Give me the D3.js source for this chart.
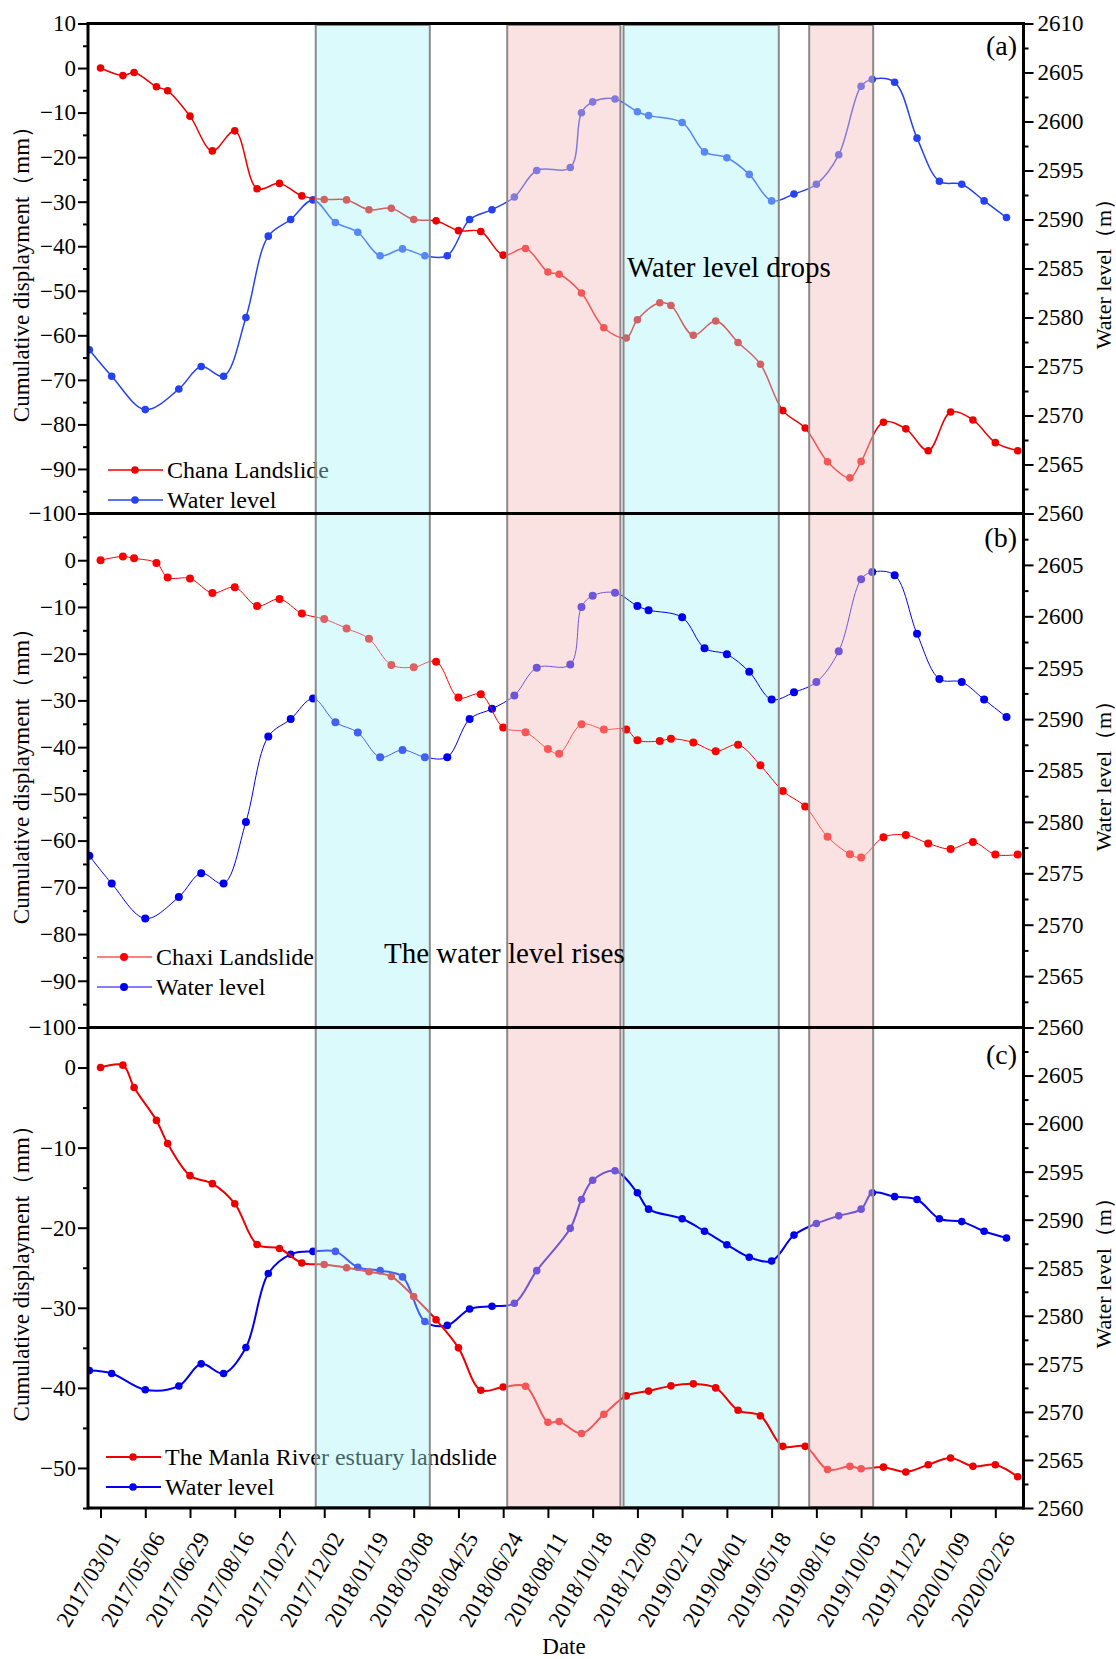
<!DOCTYPE html>
<html>
<head>
<meta charset="utf-8">
<script src="https://cdn.jsdelivr.net/npm/d3@7"></script>
<style>
  body { margin: 0; background: #fff; }
  svg text { font-family: "Liberation Serif", "Times New Roman", serif; fill: #000; }
</style>
</head>
<body>
<div id="chart"></div>
<script>
// date ticks on the x axis (equally spaced, one unit each)
const dateLabels = ["2017/03/01", "2017/05/06", "2017/06/29", "2017/08/16", "2017/10/27",
  "2017/12/02", "2018/01/19", "2018/03/08", "2018/04/25", "2018/06/24", "2018/08/11",
  "2018/10/18", "2018/12/09", "2019/02/12", "2019/04/01", "2019/05/18", "2019/08/16",
  "2019/10/05", "2019/11/22", "2020/01/09", "2020/02/26"];

// sample positions, in tick units (0 = 2017/03/01)
const slideX = [0, 0.5, 0.75, 1.25, 1.5, 2, 2.5, 3, 3.5, 4, 4.5, 5, 5.5, 6, 6.5, 7, 7.5, 8, 8.5, 9,
  9.5, 10, 10.25, 10.75, 11.25, 11.75, 12, 12.5, 12.75, 13.25, 13.75, 14.25, 14.75, 15.25, 15.75,
  16.25, 16.75, 17, 17.5, 18, 18.5, 19, 19.5, 20, 20.5];
const manlaX = [0, 0.5, 0.75, 1.25, 1.5, 2, 2.5, 3, 3.5, 4, 4.5, 5, 5.5, 6, 6.5, 7, 7.5, 8, 8.5, 9,
  9.5, 10, 10.25, 10.75, 11.25, 11.75, 12.25, 12.75, 13.25, 13.75, 14.25, 14.75, 15.25, 15.75,
  16.25, 16.75, 17, 17.5, 18, 18.5, 19, 19.5, 20, 20.5];
const waterX = [-0.25, 0.25, 1, 1.75, 2.25, 2.75, 3.25, 3.75, 4.25, 4.75, 5.25, 5.75, 6.25, 6.75,
  7.25, 7.75, 8.25, 8.75, 9.25, 9.75, 10.5, 10.75, 11, 11.5, 12, 12.25, 13, 13.5, 14, 14.5, 15,
  15.5, 16, 16.5, 17, 17.25, 17.75, 18.25, 18.75, 19.25, 19.75, 20.25];

// cumulative displacement (mm)
const chanaDisp = [0, -1.7, -1.0, -4.2, -5.1, -10.8, -18.6, -14.1, -27.1, -25.9, -28.7, -29.5,
  -29.6, -31.8, -31.5, -34.0, -34.3, -36.5, -36.7, -42.0, -40.5, -45.8, -46.3, -50.5, -58.3,
  -60.6, -56.5, -52.7, -53.3, -60.0, -56.8, -61.6, -66.5, -76.9, -80.8, -88.4, -92.0, -88.3,
  -79.5, -81.0, -85.9, -77.2, -79.0, -84.1, -85.9];
const chaxiDisp = [0, 0.8, 0.4, -0.6, -3.7, -3.9, -7.0, -5.8, -9.8, -8.3, -11.4, -12.6, -14.6,
  -16.8, -22.4, -22.9, -21.7, -29.4, -28.7, -35.8, -36.8, -40.4, -41.4, -35.1, -36.2, -36.2,
  -38.5, -38.7, -38.2, -39.0, -40.9, -39.5, -43.9, -49.4, -52.7, -59.2, -62.9, -63.6, -59.3,
  -58.8, -60.6, -61.8, -60.3, -63.0, -63.0];
const manlaDisp = [0, 0.3, -2.5, -6.6, -9.5, -13.5, -14.5, -17.0, -22.1, -22.6, -24.4, -24.6,
  -25.0, -25.5, -26.1, -28.6, -31.5, -35.0, -40.3, -39.9, -39.8, -44.3, -44.2, -45.7, -43.3,
  -41.0, -40.4, -39.75, -39.5, -40.0, -42.8, -43.5, -47.3, -47.3, -50.2, -49.8, -50.1, -49.9,
  -50.5, -49.6, -48.75, -49.8, -49.6, -51.1];

// water level (m)
const waterAB = [2576.7, 2574.0, 2570.6, 2572.7, 2575.0, 2574.0, 2580.0, 2588.3, 2590.0, 2592.0,
  2589.7, 2588.7, 2586.3, 2587.0, 2586.3, 2586.3, 2590.0, 2591.0, 2592.3, 2595.0, 2595.3, 2600.9,
  2602.0, 2602.3, 2601.0, 2600.6, 2599.9, 2596.9, 2596.3, 2594.6, 2591.9, 2592.6, 2593.6, 2596.6,
  2603.6, 2604.3, 2604.0, 2598.3, 2593.9, 2593.6, 2591.9, 2590.2];
const waterC = [2574.3, 2574.0, 2572.3, 2572.7, 2575.0, 2574.0, 2576.7, 2584.4, 2586.4, 2586.7,
  2586.7, 2585.05, 2584.7, 2584.05, 2579.4, 2579.0, 2580.7, 2581.0, 2581.3, 2584.7, 2589.1, 2592.1,
  2594.1, 2595.1, 2592.8, 2591.1, 2590.1, 2588.8, 2587.4, 2586.1, 2585.7, 2588.4, 2589.6, 2590.4,
  2591.1, 2592.8, 2592.4, 2592.1, 2590.1, 2589.8, 2588.8, 2588.1];

// shaded periods (tick units): cyan = water level drops, pink = water level rises
const bandFrom = [4.81, 9.09, 11.69, 15.84];
const bandTo = [7.36, 11.62, 15.16, 17.27];
const bandKind = ["drop", "rise", "drop", "rise"];

const W = 1116, H = 1659;
const xL = 88, xR = 1023.5;
const frameTop = 23.5, frameBottom = 1508;

const x = d3.scaleLinear().domain([-0.28, 20.63]).range([xL, xR]);

const panels = [
  { tag: "(a)", name: "Chana Landslide", xs: slideX, disp: chanaDisp, water: waterAB,
    top: 23.5, bottom: 513.5, yDom: [-100, 10], major: d3.range(-100, 11, 10), minor: d3.range(-95, 10, 10),
    hideLeft: [], hideRight: [], red: "#ee0000", blue: "#2442f0", lw: 1.5, r: 3.8,
    overlay: [0, 1, 2, 3], legY: 470, legX: 108, tagY: 55 },
  { tag: "(b)", name: "Chaxi Landslide", xs: slideX, disp: chaxiDisp, water: waterAB,
    top: 513.5, bottom: 1027.5, yDom: [-100, 10], major: d3.range(-100, 11, 10), minor: d3.range(-95, 10, 10),
    hideLeft: [10], hideRight: [2610], red: "#ff0000", blue: "#0000ee", lw: 1, r: 4,
    overlay: [0, 1, 3], legY: 957, legX: 97, tagY: 547 },
  { tag: "(c)", name: "The Manla River estuary landslide", xs: manlaX, disp: manlaDisp, water: waterC,
    top: 1027.5, bottom: 1508, yDom: [-55, 5], major: d3.range(-50, 1, 10), minor: d3.range(-55, 6, 10),
    hideLeft: [], hideRight: [2610], red: "#ee0000", blue: "#0000ee", lw: 2, r: 3.8,
    overlay: [0, 1, 3], legY: 1457, legX: 106, tagY: 1064 }
];

const fillSolid = { drop: "#dbfafc", rise: "#fbe2e2" };
const fillOver = { drop: "#a6f3f8", rise: "#f6bfbf" };
const overOpacity = { drop: 0.4, rise: 0.45 };

const svg = d3.select("#chart").append("svg")
  .attr("width", W).attr("height", H);

const defs = svg.append("defs");
const under = svg.append("g");
const data = svg.append("g");
const over = svg.append("g");
const frame = svg.append("g");
const notes = svg.append("g");

const fmt = d3.format("d");

panels.forEach((p, i) => {
  const y = d3.scaleLinear().domain(p.yDom).range([p.bottom, p.top]);
  const yR = d3.scaleLinear().domain([2560, 2610]).range([p.bottom, p.top]);

  defs.append("clipPath").attr("id", "clip" + i)
    .append("rect").attr("x", xL).attr("y", p.top).attr("width", xR - xL).attr("height", p.bottom - p.top);

  // shaded periods: some sit under the curves, the rest are laid on top
  bandFrom.forEach((b, k) => {
    const onTop = p.overlay.includes(k);
    (onTop ? over : under).append("rect")
      .attr("x", x(b)).attr("y", p.top)
      .attr("width", x(bandTo[k]) - x(b)).attr("height", p.bottom - p.top)
      .attr("fill", onTop ? fillOver[bandKind[k]] : fillSolid[bandKind[k]])
      .attr("fill-opacity", onTop ? overOpacity[bandKind[k]] : 1);
  });

  const g = data.append("g").attr("clip-path", `url(#clip${i})`);

  const water = waterX.map((v, k) => [v, p.water[k]]);
  const disp = p.xs.map((v, k) => [v, p.disp[k]]);

  g.append("path").datum(water)
    .attr("fill", "none").attr("stroke", p.blue).attr("stroke-width", p.lw)
    .attr("d", d3.line().x(d => x(d[0])).y(d => yR(d[1])).curve(d3.curveCatmullRom.alpha(0.5)));
  g.selectAll(".wp").data(water).enter().append("circle")
    .attr("cx", d => x(d[0])).attr("cy", d => yR(d[1])).attr("r", p.r).attr("fill", p.blue);

  g.append("path").datum(disp)
    .attr("fill", "none").attr("stroke", p.red).attr("stroke-width", p.lw)
    .attr("d", d3.line().x(d => x(d[0])).y(d => y(d[1])).curve(d3.curveCatmullRom.alpha(0.5)));
  g.selectAll(".dp").data(disp).enter().append("circle")
    .attr("cx", d => x(d[0])).attr("cy", d => y(d[1])).attr("r", p.r).attr("fill", p.red);

  // legend
  const leg = data.append("g");
  [[p.name, p.red, 0], ["Water level", p.blue, 30]].forEach(([label, col, dy]) => {
    leg.append("line").attr("x1", p.legX).attr("x2", p.legX + 55)
      .attr("y1", p.legY + dy).attr("y2", p.legY + dy)
      .attr("stroke", col).attr("stroke-width", p.lw);
    leg.append("circle").attr("cx", p.legX + 27).attr("cy", p.legY + dy).attr("r", p.r).attr("fill", col);
    leg.append("text").attr("x", p.legX + 59).attr("y", p.legY + dy + 8)
      .attr("font-size", 24).text(label);
  });

  // left axis
  frame.append("g").attr("transform", `translate(${xL},0)`)
    .call(d3.axisLeft(y).tickValues(p.major).tickSize(10).tickPadding(2).tickSizeOuter(0)
      .tickFormat(v => p.hideLeft.includes(v) ? "" : fmt(v)));
  frame.append("g").attr("transform", `translate(${xL},0)`)
    .call(d3.axisLeft(y).tickValues(p.minor).tickSize(5).tickSizeOuter(0).tickFormat(""));

  // right axis
  frame.append("g").attr("transform", `translate(${xR},0)`)
    .call(d3.axisRight(yR).tickValues(d3.range(2560, 2611, 5)).tickSize(10).tickPadding(4).tickSizeOuter(0)
      .tickFormat(v => p.hideRight.includes(v) ? "" : fmt(v)));
  frame.append("g").attr("transform", `translate(${xR},0)`)
    .call(d3.axisRight(yR).tickValues(d3.range(2562.5, 2610, 5)).tickSize(5).tickSizeOuter(0).tickFormat(""));

  // axis titles
  const cy = (p.top + p.bottom) / 2;
  notes.append("text").attr("transform", `translate(29,${cy}) rotate(-90)`)
    .attr("text-anchor", "middle").attr("font-size", 23).text("Cumulative displayment（mm）");
  notes.append("text").attr("transform", `translate(1111,${cy}) rotate(-90)`)
    .attr("text-anchor", "middle").attr("font-size", 22).text("Water level（m）");

  notes.append("text").attr("x", 1017).attr("y", p.tagY)
    .attr("text-anchor", "end").attr("font-size", 28).text(p.tag);

  // panel bottom line
  frame.append("line").attr("x1", xL).attr("x2", xR)
    .attr("y1", p.bottom).attr("y2", p.bottom)
    .attr("stroke", "#000").attr("stroke-width", 3);
});

// band outlines across the three panels
bandFrom.forEach((b, k) => {
  over.append("rect")
    .attr("x", x(b)).attr("y", frameTop + 1.5)
    .attr("width", x(bandTo[k]) - x(b)).attr("height", frameBottom - frameTop - 2.5)
    .attr("fill", "none").attr("stroke", "#8a8a8a").attr("stroke-width", 2);
});

frame.selectAll(".domain").remove();
frame.selectAll(".tick line").attr("stroke", "#000").attr("stroke-width", 2);
frame.selectAll(".tick text").attr("font-size", 23)
  .attr("font-family", "Liberation Serif, Times New Roman, serif");

// frame lines
frame.append("line").attr("x1", xL).attr("x2", xR).attr("y1", frameTop).attr("y2", frameTop)
  .attr("stroke", "#000").attr("stroke-width", 3);
[xL, xR].forEach(v => {
  frame.append("line").attr("x1", v).attr("x2", v).attr("y1", frameTop - 1.5).attr("y2", frameBottom + 1.5)
    .attr("stroke", "#000").attr("stroke-width", 3);
});

// date axis
const xa = frame.append("g").attr("transform", `translate(0,${frameBottom})`)
  .call(d3.axisBottom(x).tickValues(d3.range(dateLabels.length)).tickSize(10).tickSizeOuter(0)
    .tickFormat(i => dateLabels[i]));
xa.select(".domain").remove();
xa.selectAll(".tick line").attr("stroke", "#000").attr("stroke-width", 2);
xa.selectAll(".tick text")
  .attr("x", 0).attr("y", 0).attr("dy", 0)
  .attr("transform", "translate(20,30) rotate(-60)")
  .attr("text-anchor", "end").attr("font-size", 23)
  .attr("font-family", "Liberation Serif, Times New Roman, serif");

notes.append("text").attr("x", 564).attr("y", 1654).attr("text-anchor", "middle")
  .attr("font-size", 23).text("Date");

notes.append("text").attr("x", 627).attr("y", 277).attr("font-size", 29).text("Water level drops");
notes.append("text").attr("x", 384).attr("y", 963).attr("font-size", 29).text("The water level rises");
</script>
</body>
</html>
